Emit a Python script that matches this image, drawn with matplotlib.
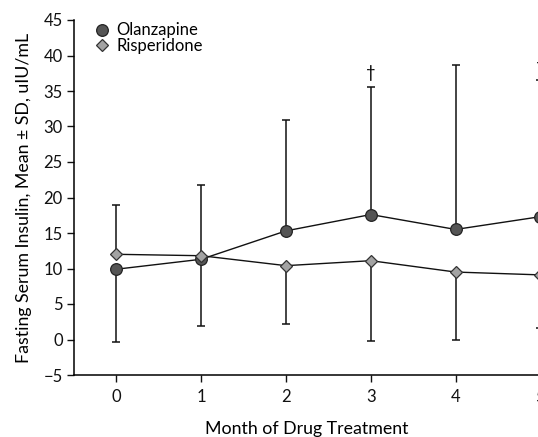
"""Fasting serum insulin by month of treatment, olanzapine vs risperidone."""

import matplotlib

matplotlib.use("Agg")

import matplotlib.pyplot as plt
from matplotlib.lines import Line2D
import numpy as np

months = [0, 1, 2, 3, 4, 5]
olz_mean = [9.9, 11.3, 15.3, 17.6, 15.5, 17.3]
olz_sd = [10.2, 9.4, 15.6, 17.9, 23.1, 19.2]
ris_mean = [12.0, 11.8, 10.4, 11.1, 9.5, 9.1]
ris_sd = [6.9, 9.9, 8.2, 11.3, 9.5, 7.5]
dagger_months = [3, 5]

plt.rcParams["font.family"] = ["Lato", "DejaVu Sans"]

fig = plt.figure(figsize=(5.38, 4.37), dpi=100)
ax = fig.add_axes([74 / 538, 62 / 437, 508.8 / 538, 355 / 437])

olz = np.array(olz_mean)
ris = np.array(ris_mean)
olz_up = olz > ris

# only the outer side of each pair gets a bar: up for the higher mean, down for the lower
olz_err = [np.where(olz_up, 0, olz_sd), np.where(olz_up, olz_sd, 0)]
ris_err = [np.where(olz_up, ris_sd, 0), np.where(olz_up, 0, ris_sd)]

ebkw = dict(fmt="none", ecolor="#111111", elinewidth=1.1, capsize=2.7, capthick=1.1, zorder=1)
ax.errorbar(months, olz_mean, yerr=olz_err, **ebkw)
ax.errorbar(months, ris_mean, yerr=ris_err, **ebkw)

olz_style = dict(marker="o", ms=8.4, mfc="#555555", mec="#222222", mew=0.9)
ris_style = dict(marker="D", ms=6.4, mfc="#a3a3a3", mec="#333333", mew=0.9)
ax.plot(months, olz_mean, color="#111111", lw=1.0, zorder=3, **olz_style)
ax.plot(months, ris_mean, color="#111111", lw=1.0, zorder=3, **ris_style)

for m in dagger_months:
    top = olz_mean[m] + olz_sd[m]
    ax.text(m, top + 2.0, "\u2020", ha="center", va="center", fontsize=12)

ax.set_xlim(-0.5, 5.5)
ax.set_ylim(-5, 45)
ax.set_xticks(months)
ax.set_yticks(range(-5, 50, 5))
ax.set_yticklabels([str(v).replace("-", "\u2212") for v in range(-5, 50, 5)])
ax.tick_params(labelsize=12, length=5, width=1, direction="out", colors="#111111")
ax.tick_params(axis="x", pad=5)
ax.tick_params(axis="y", pad=3)
for side in ["top", "right"]:
    ax.spines[side].set_visible(False)
for side in ["left", "bottom"]:
    ax.spines[side].set_linewidth(1.1)

ax.set_ylabel("Fasting Serum Insulin, Mean \u00b1 SD, uIU/mL", fontsize=12.8)
ax.yaxis.set_label_coords(-0.083, 0.5)
ax.set_xlabel("Month of Drug Treatment", fontsize=12.8)
ax.xaxis.set_label_coords((307 - 74) / 508.8, -0.13)

handles = [
    Line2D([], [], ls="none", **olz_style),
    Line2D([], [], ls="none", **ris_style),
]
ax.legend(handles, ["Olanzapine", "Risperidone"], loc="upper left",
          bbox_to_anchor=(0.005, 1.04), frameon=False, fontsize=12,
          handlelength=1.0, handletextpad=0.4, labelspacing=-0.05, borderaxespad=0.6)

fig.savefig("out.png", dpi=100)
plt.close(fig)
